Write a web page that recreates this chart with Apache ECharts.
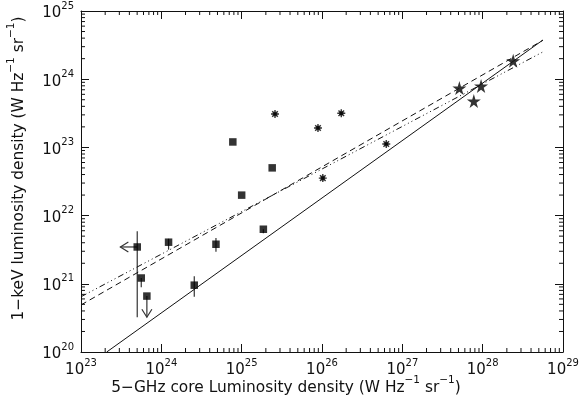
<!DOCTYPE html>
<html>
<head>
<meta charset="utf-8">
<script src="https://cdn.jsdelivr.net/npm/echarts@6/dist/echarts.min.js"></script>
<style>
  html, body { margin: 0; padding: 0; background: #fff; }
  #chart { width: 582px; height: 406px; }
</style>
</head>
<body>
<div id="chart"></div>
<script>
// all values are log10 of the luminosity densities
var xTicks = [23, 24, 25, 26, 27, 28, 29];
var yTicks = [20, 21, 22, 23, 24, 25];

// squares
var sqX = [23.70, 23.75, 23.82, 24.09, 24.41, 24.68, 24.89, 25.00, 25.27, 25.38];
var sqY = [21.54, 21.085, 20.82, 21.61, 20.98, 21.58, 23.08, 22.30, 21.80, 22.70];

// error bars on squares: x, low, high
var errX = [23.70, 23.75, 24.09, 24.41, 24.68, 25.27];
var errLo = [20.51, 20.95, 21.50, 20.81, 21.47, 21.74];
var errHi = [21.77, 21.085, 21.66, 21.11, 21.67, 21.80];

// limits (arrows): from point to tip
var limFromX = [23.70, 23.82];
var limFromY = [21.54, 20.82];
var limToX = [23.49, 23.82];
var limToY = [21.54, 20.51];

// asterisks
var astX = [25.415, 25.95, 26.24, 26.01, 26.80];
var astY = [23.49, 23.285, 23.50, 22.55, 23.05];

// stars
var starX = [27.71, 27.89, 27.98, 28.38];
var starY = [23.87, 23.68, 23.90, 24.27];

// fitted lines (end points)
var solidX = [23.32, 28.75];
var solidY = [20.00, 24.575];
var dashX = [23.00, 28.75];
var dashY = [20.69, 24.57];
var dotX = [23.00, 28.75];
var dotY = [20.81, 24.40];

function pairs(xs, ys) {
    return xs.map(function(x, i) { return [x, ys[i]]; });
}

var minorX = [];
for (var d = 23; d < 29; d++) {
    for (var k = 2; k <= 9; k++) minorX.push(d + Math.log10(k));
}
var minorY = [];
for (var e = 20; e < 25; e++) {
    for (var m = 2; m <= 9; m++) minorY.push(e + Math.log10(m));
}

var ink = '#111';
var font = 'DejaVu Sans';
var rich = {
    b: { fontSize: 15, fontFamily: font, color: ink, lineHeight: 20, verticalAlign: 'bottom' },
    s: { fontSize: 10, fontFamily: font, color: ink, lineHeight: 20, verticalAlign: 'top' }
};
var nameRich = {
    t: { fontSize: 15.4, fontFamily: font, color: ink, lineHeight: 20, verticalAlign: 'bottom' },
    s: { fontSize: 10.5, fontFamily: font, color: ink, lineHeight: 20, verticalAlign: 'top' }
};

function powLabel(v) {
    return '{b|10}{s|' + v + '}';
}

var axisBase = {
    type: 'value',
    interval: 1,
    axisLine: { show: true, onZero: false, lineStyle: { color: ink, width: 1 } },
    axisTick: { show: true, inside: true, length: 8, lineStyle: { color: ink } },
    splitLine: { show: false }
};

function axis(extra) {
    return Object.assign({}, axisBase, extra);
}

var myChart = echarts.init(document.getElementById('chart'));

var option = {
    animation: false,
    backgroundColor: '#fff',
    grid: { left: 81, right: 19, top: 11, bottom: 54, outerBoundsMode: 'none', containLabel: false },
    xAxis: [
        axis({
            min: xTicks[0], max: xTicks[xTicks.length - 1], position: 'bottom',
            axisLabel: { formatter: powLabel, rich: rich, margin: 6 },
            name: '{t|5−GHz core Luminosity density (W Hz}{s|−1}{t| sr}{s|−1}{t|)}',
            nameLocation: 'middle', nameGap: 23, nameMoveOverlap: false,
            nameTextStyle: { rich: nameRich, padding: [0, 72, 0, 0] }
        }),
        axis({
            min: xTicks[0], max: xTicks[xTicks.length - 1], position: 'top',
            axisLabel: { show: false }
        })
    ],
    yAxis: [
        axis({
            min: yTicks[0], max: yTicks[yTicks.length - 1], position: 'left',
            axisLabel: { formatter: powLabel, rich: rich, margin: 7 },
            name: '{t|1−keV luminosity density (W Hz}{s|−1}{t| sr}{s|−1}{t|)}',
            nameLocation: 'middle', nameGap: 55, nameRotate: 90, nameMoveOverlap: false,
            nameTextStyle: { rich: nameRich, padding: [0, 0, 0, 26] }
        }),
        axis({
            min: yTicks[0], max: yTicks[yTicks.length - 1], position: 'right',
            axisLabel: { show: false }
        })
    ],
    series: [
        {
            // minor ticks along bottom and top
            type: 'custom', silent: true, clip: false,
            data: minorX.map(function(v) { return [v, 20]; }),
            renderItem: function(params, api) {
                var b = api.coord([api.value(0), yTicks[0]]);
                var t = api.coord([api.value(0), yTicks[yTicks.length - 1]]);
                var st = { stroke: ink, lineWidth: 1 };
                return { type: 'group', children: [
                    { type: 'line', shape: { x1: b[0], y1: b[1], x2: b[0], y2: b[1] - 4 }, style: st },
                    { type: 'line', shape: { x1: t[0], y1: t[1], x2: t[0], y2: t[1] + 4 }, style: st }
                ] };
            }
        },
        {
            // minor ticks along left and right
            type: 'custom', silent: true, clip: false,
            data: minorY.map(function(v) { return [23, v]; }),
            renderItem: function(params, api) {
                var l = api.coord([xTicks[0], api.value(1)]);
                var r = api.coord([xTicks[xTicks.length - 1], api.value(1)]);
                var st = { stroke: ink, lineWidth: 1 };
                return { type: 'group', children: [
                    { type: 'line', shape: { x1: l[0], y1: l[1], x2: l[0] + 4, y2: l[1] }, style: st },
                    { type: 'line', shape: { x1: r[0], y1: r[1], x2: r[0] - 4, y2: r[1] }, style: st }
                ] };
            }
        },
        {
            type: 'line', data: pairs(solidX, solidY), symbol: 'none',
            lineStyle: { color: ink, width: 1, type: 'solid' }
        },
        {
            type: 'line', data: pairs(dashX, dashY), symbol: 'none',
            lineStyle: { color: ink, width: 1, type: [6, 4] }
        },
        {
            type: 'line', data: pairs(dotX, dotY), symbol: 'none',
            lineStyle: { color: ink, width: 1, type: [6, 3, 1, 3, 1, 3, 1, 3] }
        },
        {
            // error bars
            type: 'custom', silent: true,
            data: errX.map(function(x, i) { return [x, errLo[i], errHi[i]]; }),
            renderItem: function(params, api) {
                var lo = api.coord([api.value(0), api.value(1)]);
                var hi = api.coord([api.value(0), api.value(2)]);
                return { type: 'line', shape: { x1: lo[0], y1: lo[1], x2: hi[0], y2: hi[1] },
                         style: { stroke: '#333', lineWidth: 1.2 } };
            }
        },
        {
            // upper limit arrows
            type: 'custom', silent: true,
            data: limFromX.map(function(x, i) { return [x, limFromY[i], limToX[i], limToY[i]]; }),
            renderItem: function(params, api) {
                var a = api.coord([api.value(0), api.value(1)]);
                var b = api.coord([api.value(2), api.value(3)]);
                var dx = b[0] - a[0], dy = b[1] - a[1];
                var len = Math.sqrt(dx * dx + dy * dy);
                var ux = dx / len, uy = dy / len;
                var h = 8, w = 5;
                var p1 = [b[0] - ux * h - uy * w, b[1] - uy * h + ux * w];
                var p2 = [b[0] - ux * h + uy * w, b[1] - uy * h - ux * w];
                var st = { stroke: '#333', lineWidth: 1.2, fill: null };
                return { type: 'group', children: [
                    { type: 'line', shape: { x1: a[0], y1: a[1], x2: b[0], y2: b[1] }, style: st },
                    { type: 'polyline', shape: { points: [p1, b, p2] }, style: st }
                ] };
            }
        },
        {
            type: 'scatter', data: pairs(sqX, sqY), symbol: 'rect', symbolSize: 7.5,
            itemStyle: { color: '#000' }
        },
        {
            type: 'scatter', data: pairs(astX, astY), symbolSize: 8,
            symbol: 'path://M5,0L5,10M0,5L10,5M1.5,1.5L8.5,8.5M1.5,8.5L8.5,1.5M3,3L7,3L7,7L3,7Z',
            itemStyle: { color: '#000', borderColor: '#000', borderWidth: 1.4 }
        },
        {
            type: 'scatter', data: pairs(starX, starY), symbolSize: 14,
            symbol: 'path://M50,0L61,35L98,35L68,57L79,91L50,70L21,91L32,57L2,35L39,35Z',
            itemStyle: { color: '#000' }
        }
    ]
};
myChart.setOption(option);
</script>
</body>
</html>
